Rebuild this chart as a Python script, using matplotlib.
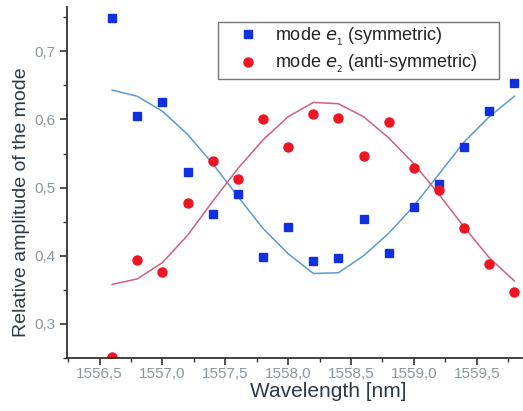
import matplotlib
matplotlib.use("Agg")
import matplotlib.pyplot as plt
from matplotlib.ticker import MultipleLocator, FuncFormatter

wavelength = [1556.6, 1556.8, 1557.0, 1557.2, 1557.4, 1557.6, 1557.8, 1558.0, 1558.2,
              1558.4, 1558.6, 1558.8, 1559.0, 1559.2, 1559.4, 1559.6, 1559.8]
mode_e1 = [0.749, 0.605, 0.625, 0.523, 0.461, 0.491, 0.398, 0.442, 0.392,
           0.397, 0.454, 0.404, 0.471, 0.505, 0.560, 0.612, 0.654]
mode_e2 = [0.252, 0.394, 0.376, 0.477, 0.539, 0.512, 0.601, 0.559, 0.608,
           0.602, 0.546, 0.596, 0.529, 0.496, 0.441, 0.388, 0.347]
fit_e1 = [0.643, 0.634, 0.612, 0.578, 0.535, 0.487, 0.440, 0.403, 0.374,
          0.375, 0.400, 0.433, 0.473, 0.520, 0.567, 0.604, 0.634]
fit_e2 = [0.358, 0.366, 0.390, 0.430, 0.480, 0.528, 0.570, 0.604, 0.625,
          0.623, 0.604, 0.573, 0.535, 0.490, 0.442, 0.397, 0.363]

plt.rcParams['font.family'] = ['Liberation Sans', 'DejaVu Sans']

fig = plt.figure(figsize=(5.23, 4.11), dpi=100)
ax = fig.add_axes([0.128, 0.129, 0.870, 0.854])

ax.plot(wavelength, fit_e1, color='#5b9bd0', lw=1.1)
ax.plot(wavelength, fit_e2, color='#d0607e', lw=1.1)
ax.plot(wavelength, mode_e1, 's', color='#1030e0', ms=5.5, ls='none',
        label=r'mode $\mathit{e}_{_1}$ (symmetric)')
ax.plot(wavelength, mode_e2, 'o', color='#ee1522', ms=6.5, ls='none',
        label=r'mode $\mathit{e}_{_2}$ (anti-symmetric)')

ax.set_xlim(1556.24, 1559.86)
ax.set_ylim(0.25, 0.765)

for s in ['top', 'right']:
    ax.spines[s].set_visible(False)
for s in ['left', 'bottom']:
    ax.spines[s].set_color('#333333')
    ax.spines[s].set_linewidth(1.3)

ax.xaxis.set_major_locator(MultipleLocator(0.5))
ax.xaxis.set_minor_locator(MultipleLocator(0.25))
ax.yaxis.set_major_locator(MultipleLocator(0.1))
ax.yaxis.set_minor_locator(MultipleLocator(0.05))
ax.xaxis.set_major_formatter(FuncFormatter(lambda v, p: f"{v:.1f}".replace('.', ',')))
ax.yaxis.set_major_formatter(FuncFormatter(lambda v, p: f"{v:.1f}".replace('.', ',')))
ax.tick_params(which='major', length=5, width=1.2, color='#333333',
               labelsize=11, labelcolor='#8a979e')
ax.tick_params(which='minor', length=3, width=1.0, color='#333333')
ax.tick_params(axis='x', which='major', pad=1.5)
ax.tick_params(axis='y', which='major', pad=3)

ax.set_xlabel('Wavelength [nm]', fontsize=15, color='#2c3a48')
ax.set_ylabel('Relative amplitude of the mode', fontsize=14, color='#2c3a48')
ax.xaxis.set_label_coords(0.575, -0.068)
ax.yaxis.set_label_coords(-0.082, 0.444)

leg = ax.legend(loc='upper left', bbox_to_anchor=(0.331, 0.957, 0.618, 0.0),
                mode='expand', fontsize=13,
                frameon=True, fancybox=False, borderpad=0.2, handletextpad=0.0,
                labelspacing=0.3, handlelength=3.0, borderaxespad=0)
leg.get_frame().set_edgecolor('#555555')
leg.get_frame().set_linewidth(1.0)
for t in leg.get_texts():
    t.set_color('#222222')

fig.savefig('out.png', dpi=100)
